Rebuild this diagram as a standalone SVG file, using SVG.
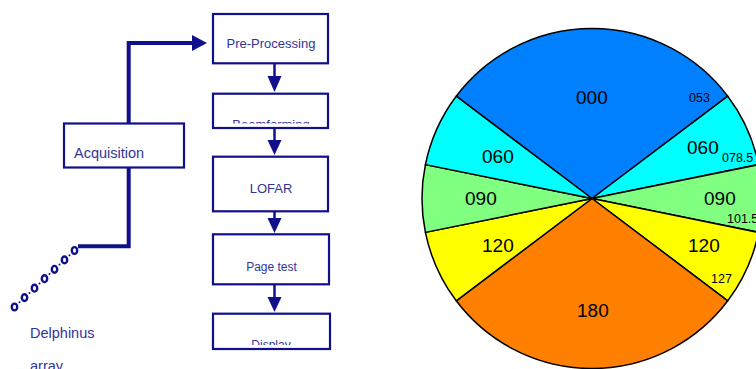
<svg xmlns="http://www.w3.org/2000/svg" width="756" height="369" viewBox="0 0 756 369">
<style>
.box{fill:#fff;stroke:#10108C;stroke-width:2.2}
.ft{font-family:"Liberation Sans",Arial,sans-serif;fill:#333399;text-anchor:middle}
.lt{font-family:"Liberation Sans",Arial,sans-serif;fill:#333399}
.wire{fill:none;stroke:#10108C;stroke-width:4}
.thin{fill:none;stroke:#10108C;stroke-width:2.5}
.head{fill:#10108C}
.sl{stroke:#000;stroke-width:1.5;stroke-linejoin:round}
.big{font-family:"Liberation Sans",Arial,sans-serif;font-size:19px;fill:#000}
.sm{font-family:"Liberation Sans",Arial,sans-serif;font-size:12.5px;fill:#000}
.hy{fill:none;stroke:#10108C;stroke-width:2.4}
</style>
<defs>
<clipPath id="cb"><rect x="214" y="95" width="113" height="28.5"/></clipPath>
<clipPath id="cd"><rect x="214" y="315" width="115" height="30"/></clipPath>
</defs>
<rect width="756" height="369" fill="#fff"/>

<g id="connectors">
<polyline class="wire" points="128.7,123 128.7,43 193,43"/>
<polygon class="head" points="192,35 207,43 192,51"/>
<polyline class="wire" points="128.7,168 128.7,246.3 78,246.3"/>
<line class="thin" x1="274.5" y1="64" x2="274.5" y2="78"/>
<polygon class="head" points="267.5,76 281.5,76 274.5,92"/>
<line class="thin" x1="274.5" y1="129" x2="274.5" y2="142"/>
<polygon class="head" points="267.5,140 281.5,140 274.5,155"/>
<line class="thin" x1="274.5" y1="212" x2="274.5" y2="220"/>
<polygon class="head" points="267.5,218 281.5,218 274.5,233"/>
<line class="thin" x1="274.5" y1="285" x2="274.5" y2="299"/>
<polygon class="head" points="267.5,297 281.5,297 274.5,312"/>
</g>

<g id="acquisition">
<rect class="box" x="64" y="123.5" width="120" height="44"/>
<text class="lt" x="74" y="158" font-size="14.5">Acquisition</text>
</g>

<g id="preprocessing">
<rect class="box" x="213" y="14" width="115" height="49.3"/>
<text class="ft" x="271" y="48.3" font-size="13">Pre-Processing</text>
</g>

<g id="beamforming">
<rect class="box" x="213" y="93.7" width="115" height="34.3"/>
<text class="ft" x="271" y="129.3" font-size="13" clip-path="url(#cb)">Beamforming</text>
</g>

<g id="lofar">
<rect class="box" x="213" y="156.7" width="115" height="54.6"/>
<text class="ft" x="271" y="193.3" font-size="13">LOFAR</text>
</g>

<g id="pagetest">
<rect class="box" x="213" y="234.3" width="116" height="50"/>
<text class="ft" x="271.5" y="271" font-size="12">Page test</text>
</g>

<g id="display">
<rect class="box" x="213" y="313.7" width="117" height="35.3"/>
<text class="ft" x="271" y="349.3" font-size="12" clip-path="url(#cd)">Display</text>
</g>

<g id="array">
<ellipse class="hy" cx="14.5" cy="307" rx="2.7" ry="3.4"/>
<ellipse class="hy" cx="24.5" cy="297.6" rx="2.7" ry="3.4"/>
<ellipse class="hy" cx="34.5" cy="288.2" rx="2.7" ry="3.4"/>
<ellipse class="hy" cx="44.5" cy="278.7" rx="2.7" ry="3.4"/>
<ellipse class="hy" cx="54.5" cy="269.3" rx="2.7" ry="3.4"/>
<ellipse class="hy" cx="64.5" cy="259.9" rx="2.7" ry="3.4"/>
<ellipse class="hy" cx="74.5" cy="250.5" rx="2.7" ry="3.4"/>
<g fill="#10108C">
<circle cx="19.5" cy="302.3" r="1"/>
<circle cx="29.5" cy="292.9" r="1"/>
<circle cx="39.5" cy="283.5" r="1"/>
<circle cx="49.5" cy="274" r="1"/>
<circle cx="59.5" cy="264.6" r="1"/>
<circle cx="69.5" cy="255.2" r="1"/>
</g>
<text class="lt" x="30" y="338" font-size="14.5">Delphinus</text>
<text class="lt" x="30" y="371" font-size="14.5">array</text>
</g>

<g id="pie">
<path class="sl" fill="#0080FF" d="M592,198.5 L456.23,96.19 A170,170 0 0 1 727.77,96.19 Z"/>
<path class="sl" fill="#00FFFF" d="M592,198.5 L727.77,96.19 A170,170 0 0 1 758.59,164.61 Z"/>
<path class="sl" fill="#80FF80" d="M592,198.5 L758.59,164.61 A170,170 0 0 1 758.59,232.39 Z"/>
<path class="sl" fill="#FFFF00" d="M592,198.5 L758.59,232.39 A170,170 0 0 1 727.77,300.81 Z"/>
<path class="sl" fill="#FF8000" d="M592,198.5 L727.77,300.81 A170,170 0 0 1 456.23,300.81 Z"/>
<path class="sl" fill="#FFFF00" d="M592,198.5 L456.23,300.81 A170,170 0 0 1 425.41,232.39 Z"/>
<path class="sl" fill="#80FF80" d="M592,198.5 L425.41,232.39 A170,170 0 0 1 425.41,164.61 Z"/>
<path class="sl" fill="#00FFFF" d="M592,198.5 L425.41,164.61 A170,170 0 0 1 456.23,96.19 Z"/>
<text class="big" x="576" y="103.5">000</text>
<text class="sm" x="689" y="102">053</text>
<text class="big" x="482" y="163">060</text>
<text class="big" x="687" y="154">060</text>
<text class="sm" x="722" y="162">078.5</text>
<text class="big" x="465" y="205">090</text>
<text class="big" x="704" y="205">090</text>
<text class="sm" x="727" y="223">101.5</text>
<text class="big" x="482" y="252">120</text>
<text class="big" x="688" y="252">120</text>
<text class="sm" x="711" y="283">127</text>
<text class="big" x="577" y="317">180</text>
</g>
</svg>
